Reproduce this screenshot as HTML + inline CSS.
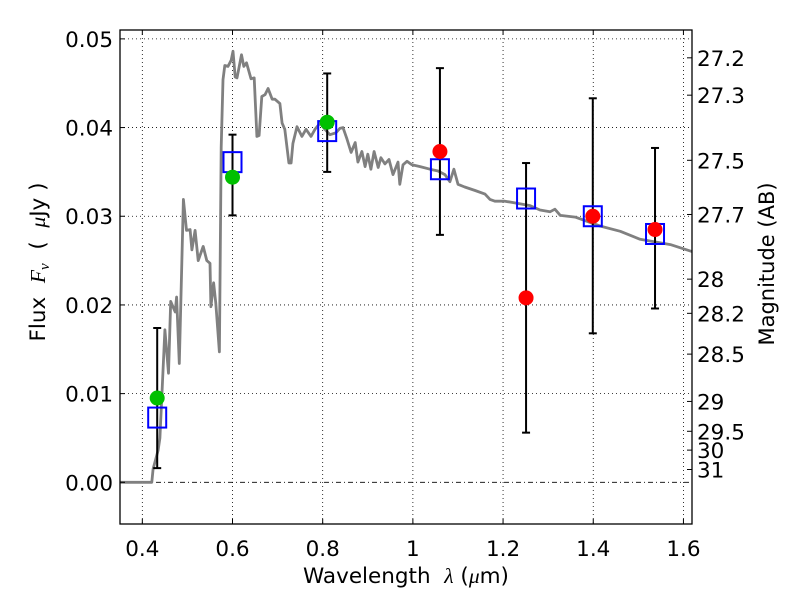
<!DOCTYPE html>
<html><head><meta charset="utf-8"><style>
html,body{margin:0;padding:0;background:#fff;}
svg{display:block;font-family:"DejaVu Sans","Liberation Sans",sans-serif;}
text{white-space:pre;}
</style></head><body>
<svg id="chart" width="800" height="600" viewBox="0 0 800 600" xmlns="http://www.w3.org/2000/svg" xml:space="preserve">
<rect x="0" y="0" width="800" height="600" fill="#fff"/>
<g id="grid"></g>
<g id="plot"></g>
<g id="axes"></g>
<text x="406" y="583" font-size="21.5" text-anchor="middle">Wavelength  <tspan font-family="Liberation Serif, serif" font-style="italic">λ</tspan> (<tspan font-family="Liberation Serif, serif" font-style="italic">μ</tspan>m)</text>
<text transform="translate(45,262) rotate(-90)" font-size="21.5" text-anchor="middle">Flux  <tspan font-family="Liberation Serif, serif" font-style="italic">F<tspan font-size="15" dy="4">ν</tspan></tspan><tspan dy="-4">  (  </tspan><tspan font-family="Liberation Serif, serif" font-style="italic">μ</tspan>Jy )</text>
<text transform="translate(774,264) rotate(-90)" font-size="21" text-anchor="middle">Magnitude (AB)</text>
</svg>
<script>
const xTicks=[0.4,0.6,0.8,1.0,1.2,1.4,1.6];
const xTickLabels=["0.4","0.6","0.8","1","1.2","1.4","1.6"];
const yTicks=[0,0.01,0.02,0.03,0.04,0.05];
const yTickLabels=["0.00","0.01","0.02","0.03","0.04","0.05"];
const magTicks=[27.2,27.3,27.5,27.7,28,28.2,28.5,29,29.5,30,31];
const magLabels=["27.2","27.3","27.5","27.7","28","28.2","28.5","29","29.5","30","31"];
const sedWave=[0.35,0.421,0.424,0.435,0.439,0.450,0.458,0.463,0.473,0.476,0.482,0.491,0.498,0.506,0.510,0.517,0.524,0.535,0.543,0.550,0.552,0.558,0.563,0.571,0.575,0.579,0.583,0.590,0.597,0.601,0.606,0.610,0.620,0.625,0.631,0.641,0.648,0.654,0.659,0.665,0.672,0.679,0.688,0.694,0.705,0.710,0.716,0.725,0.730,0.734,0.743,0.754,0.763,0.774,0.783,0.794,0.805,0.816,0.829,0.838,0.845,0.854,0.863,0.872,0.878,0.887,0.894,0.900,0.907,0.914,0.923,0.929,0.938,0.947,0.956,0.967,0.971,0.978,0.987,0.998,1.016,1.038,1.056,1.071,1.082,1.091,1.100,1.115,1.138,1.160,1.171,1.182,1.204,1.226,1.260,1.282,1.304,1.315,1.327,1.360,1.415,1.460,1.504,1.571,1.620];
const sedFlux=[0,0,0.0015,0.0036,0.005,0.0172,0.0123,0.0204,0.0192,0.0209,0.0134,0.0319,0.0284,0.0285,0.0262,0.0284,0.0250,0.0266,0.0250,0.0247,0.0198,0.0225,0.0202,0.0147,0.0378,0.0454,0.0470,0.0469,0.0476,0.0486,0.0457,0.0456,0.0482,0.0469,0.0473,0.0455,0.0456,0.0390,0.0391,0.0435,0.0437,0.0444,0.0432,0.0432,0.0427,0.0405,0.0398,0.0360,0.0360,0.0382,0.0401,0.0390,0.0398,0.0390,0.0398,0.0405,0.0398,0.0392,0.0394,0.0399,0.0400,0.0387,0.0372,0.0383,0.0361,0.0373,0.0356,0.0370,0.0353,0.0373,0.0355,0.0366,0.0359,0.0364,0.0347,0.0361,0.0336,0.0358,0.0362,0.0358,0.0356,0.0353,0.0351,0.0347,0.0339,0.0353,0.0336,0.0333,0.0329,0.0325,0.0319,0.0317,0.0317,0.0315,0.0312,0.0307,0.0305,0.0308,0.0301,0.0299,0.0289,0.0283,0.0274,0.0268,0.0260];
const bandWave=[0.433,0.600,0.810,1.060,1.251,1.399,1.537];
const modelFlux=[0.0073,0.0361,0.0396,0.0353,0.0320,0.0300,0.0280];
const obsFlux=[0.0095,0.0344,0.0406,0.0373,0.0208,0.0300,0.0285];
const obsColor=["#00c000","#00c000","#00c000","#ff0000","#ff0000","#ff0000","#ff0000"];
const errLow=[0.0016,0.0301,0.0350,0.0279,0.0056,0.0168,0.0196];
const errHigh=[0.0174,0.0392,0.0461,0.0467,0.0360,0.0433,0.0377];

const L=120,R=692,T=30,B=524;
const X0=0.3505,X1=1.619,Y0=-0.0047,Y1=0.0510;
const sx=v=>L+(v-X0)/(X1-X0)*(R-L);
const sy=v=>B-(v-Y0)/(Y1-Y0)*(B-T);
const magToFlux=m=>Math.pow(10,(23.9-m)/2.5);
const NS="http://www.w3.org/2000/svg";
function mk(tag,parent,attrs){const e=document.createElementNS(NS,tag);for(const k in attrs)e.setAttribute(k,attrs[k]);parent.appendChild(e);return e;}
const grid=document.getElementById('grid'),plot=document.getElementById('plot'),axes=document.getElementById('axes');

xTicks.forEach((t,i)=>{
  const g=mk('line',grid,{x1:sx(t),x2:sx(t),y1:T,y2:B,stroke:'#000','stroke-width':0.8,'stroke-dasharray':'1,3'});
  
  
  const tb=mk('line',axes,{x1:sx(t),x2:sx(t),y1:B,y2:B-5,stroke:'#000','stroke-width':1});
  
  
  const tt=mk('line',axes,{x1:sx(t),x2:sx(t),y1:T,y2:T+5,stroke:'#000','stroke-width':1});
  
  
  const lb=mk('text',axes,{x:sx(t),y:556,'font-size':21.5,'text-anchor':'middle'});
  lb.textContent=xTickLabels[i];
  
  
});
yTicks.forEach((t,i)=>{
  const g=mk('line',grid,{x1:L,x2:R,y1:sy(t),y2:sy(t),stroke:'#000','stroke-width':0.8,'stroke-dasharray':t===0?'5,3,1,3':'1,3'});
  
  
  const tk=mk('line',axes,{x1:L,x2:L+5,y1:sy(t),y2:sy(t),stroke:'#000','stroke-width':1});
  
  
  const lb=mk('text',axes,{x:113,y:sy(t)+8,'font-size':21.5,'text-anchor':'end'});
  lb.textContent=yTickLabels[i];
  
  
});
magTicks.forEach((m,i)=>{
  const y=sy(magToFlux(m));
  const tk=mk('line',axes,{x1:R-5,x2:R,y1:y,y2:y,stroke:'#000','stroke-width':1});
  
  
  const lb=mk('text',axes,{x:697,y:y+8,'font-size':21.5});
  lb.textContent=magLabels[i];
  
  
});

let d='';
sedWave.forEach((w,i)=>{d+=(i?'L':'M')+sx(w).toFixed(1)+','+sy(sedFlux[i]).toFixed(1);});
const clip=mk('clipPath',plot,{id:'clipArea'});
mk('rect',clip,{x:L,y:T,width:R-L,height:B-T});
const sed=mk('path',plot,{d:d,fill:'none',stroke:'#808080','stroke-width':2.8,'stroke-linejoin':'round','clip-path':'url(#clipArea)'});



bandWave.forEach((w,i)=>{
  const x=sx(w);
  const eb=mk('line',plot,{x1:x,x2:x,y1:sy(errLow[i]),y2:sy(errHigh[i]),stroke:'#000','stroke-width':2});
  
  
  [errLow[i],errHigh[i]].forEach(v=>{
    const c=mk('line',plot,{x1:x-4,x2:x+4,y1:sy(v),y2:sy(v),stroke:'#000','stroke-width':2});
    
    
  });
  const sq=mk('rect',plot,{x:x-9,y:sy(modelFlux[i])-10,width:18,height:20,fill:'none',stroke:'#0000ff','stroke-width':2});
  
  
  const pt=mk('circle',plot,{cx:x,cy:sy(obsFlux[i]),r:7.5,fill:obsColor[i]});
  
  
});

const frame=mk('rect',axes,{x:L,y:T,width:R-L,height:B-T,fill:'none',stroke:'#000','stroke-width':1.3});


</script>
</body></html>
